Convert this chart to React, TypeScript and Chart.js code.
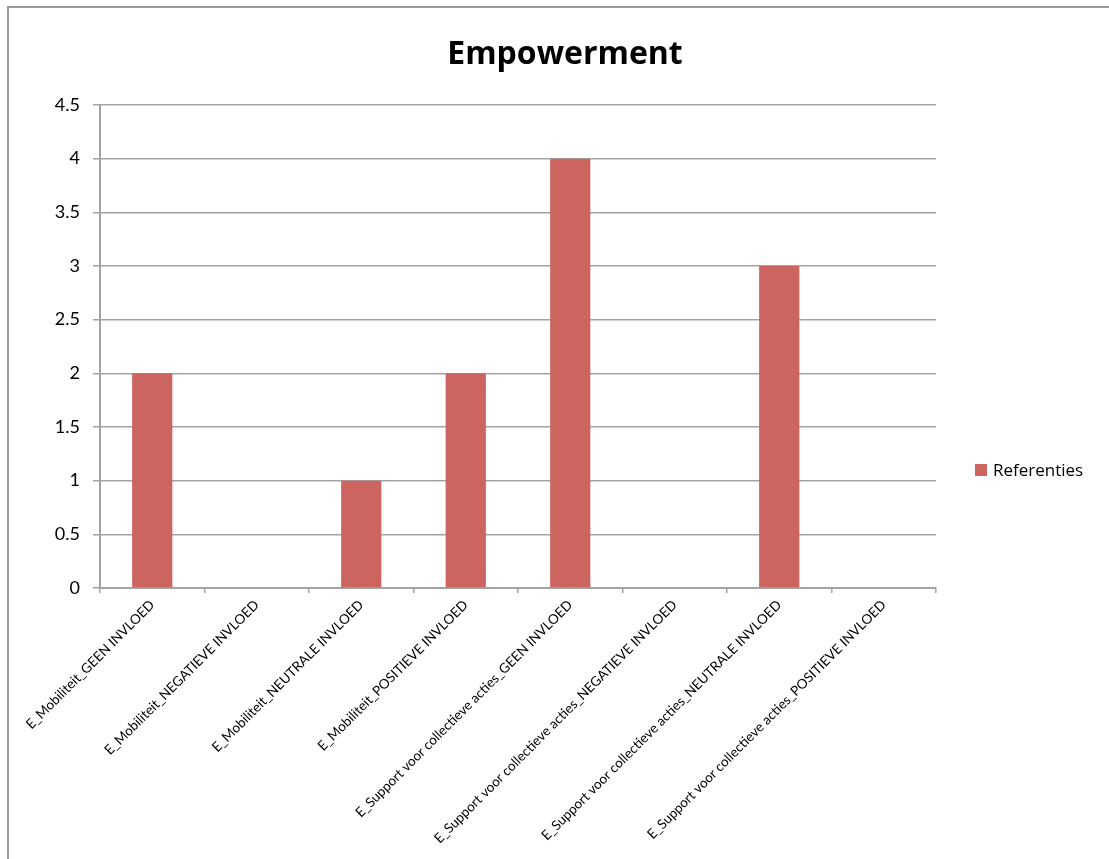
import React, { useEffect, useRef } from "react";
import { Chart, registerables } from "chart.js";

Chart.register(...registerables);

const categories = [
  "E_Mobiliteit_GEEN INVLOED",
  "E_Mobiliteit_NEGATIEVE INVLOED",
  "E_Mobiliteit_NEUTRALE INVLOED",
  "E_Mobiliteit_POSITIEVE INVLOED",
  "E_Support voor collectieve acties_GEEN INVLOED",
  "E_Support voor collectieve acties_NEGATIEVE INVLOED",
  "E_Support voor collectieve acties_NEUTRALE INVLOED",
  "E_Support voor collectieve acties_POSITIEVE INVLOED",
];
const referenties = [2, 0, 1, 2, 4, 0, 3, 0];
const seriesName = "Referenties";
const chartTitle = "Empowerment";
const yMin = 0;
const yMax = 4.5;
const yStep = 0.5;

const FONT = "Lato, 'Open Sans', sans-serif";
const TITLE_FONT = "'Open Sans', Lato, sans-serif";
const BAR_COLOR = "#CC6560";
const GRID_COLOR = "#a3a3a3";

const W = 1109;
const H = 859;

export default function App() {
  const ref = useRef<HTMLCanvasElement | null>(null);
  useEffect(() => {
    if (!ref.current) return;
    const decor = {
      id: "decor",
      beforeDraw(chart: any) {
        const ctx = chart.ctx;
        ctx.save();
        ctx.fillStyle = "#ffffff";
        ctx.fillRect(0, 0, W, H);
        ctx.fillStyle = "#9a9a9a";
        ctx.fillRect(7, 6, W - 7, 2);
        ctx.fillRect(7, 6, 2, H - 6);
        ctx.restore();
      },
      afterDraw(chart: any) {
        const ctx = chart.ctx;
        ctx.save();
        ctx.fillStyle = "#000";
        ctx.font = `bold 32px ${TITLE_FONT}`;
        ctx.textAlign = "center";
        ctx.textBaseline = "middle";
        ctx.fillText(chartTitle, 565, 55);
        ctx.fillStyle = BAR_COLOR;
        ctx.fillRect(975, 464, 12, 12);
        ctx.fillStyle = "#000";
        ctx.font = `17px ${TITLE_FONT}`;
        ctx.textAlign = "left";
        ctx.fillText(seriesName, 993, 471);
        ctx.restore();
      },
    };
    const chart = new Chart(ref.current, {
      type: "bar",
      data: {
        labels: categories,
        datasets: [
          {
            label: seriesName,
            data: referenties,
            backgroundColor: BAR_COLOR,
            borderWidth: 0,
            categoryPercentage: 1,
            barPercentage: 0.385,
          },
        ],
      },
      options: {
        animation: false,
        responsive: false,
        devicePixelRatio: 1,
        layout: { padding: { top: 105, left: 0, right: 173, bottom: 0 } },
        plugins: {
          legend: { display: false },
          title: { display: false },
          tooltip: { enabled: false },
        },
        scales: {
          x: {
            offset: true,
            grid: {
              offset: true,
              drawOnChartArea: false,
              drawTicks: true,
              tickLength: 5,
              tickColor: GRID_COLOR,
              lineWidth: 1.5,
            },
            border: { display: true, color: GRID_COLOR, width: 2 },
            ticks: {
              autoSkip: false,
              minRotation: 45,
              maxRotation: 45,
              padding: 4,
              color: "#000",
              font: { family: FONT, size: 13.5 },
            },
            afterFit(scale: any) {
              scale.height = H - 588;
            },
          },
          y: {
            min: yMin,
            max: yMax,
            ticks: {
              stepSize: yStep,
              padding: 13,
              color: "#000",
              font: { family: FONT, size: 18 },
              callback: (v: any) => String(Number(v)),
            },
            grid: {
              color: GRID_COLOR,
              lineWidth: 1.5,
              tickLength: 7,
              tickColor: GRID_COLOR,
            },
            border: { display: true, color: GRID_COLOR, width: 2 },
            afterFit(scale: any) {
              scale.width = 100;
            },
          },
        },
      },
      plugins: [decor],
    });
    return () => chart.destroy();
  }, []);
  return (
    <div style={{ position: "absolute", left: 0, top: 0, width: W, height: H }}>
      <canvas ref={ref} width={W} height={H} style={{ display: "block" }} />
    </div>
  );
}
